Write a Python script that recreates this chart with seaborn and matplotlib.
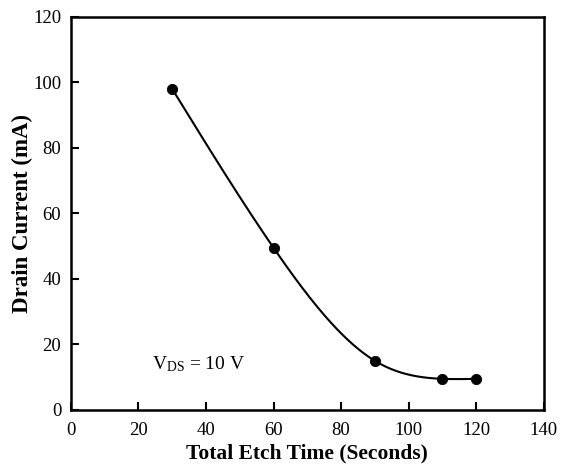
import numpy as np
import pandas as pd
import matplotlib
matplotlib.use("Agg")
import matplotlib.pyplot as plt
import seaborn as sns

# data
etch_time = [30, 60, 90, 110, 120]
drain_current = [98, 49.5, 15, 9.5, 9.5]
x_ticks = [0, 20, 40, 60, 80, 100, 120, 140]
y_ticks = [0, 20, 40, 60, 80, 100, 120]


def natural_spline(x, y, n=300):
    # natural cubic spline through the measured points
    x = np.asarray(x, float)
    y = np.asarray(y, float)
    k = len(x)
    h = np.diff(x)
    A = np.zeros((k, k))
    b = np.zeros(k)
    A[0, 0] = A[-1, -1] = 1
    for i in range(1, k - 1):
        A[i, i - 1] = h[i - 1]
        A[i, i] = 2 * (h[i - 1] + h[i])
        A[i, i + 1] = h[i]
        b[i] = 6 * ((y[i + 1] - y[i]) / h[i] - (y[i] - y[i - 1]) / h[i - 1])
    m = np.linalg.solve(A, b)
    xs = np.linspace(x[0], x[-1], n)
    ys = np.empty_like(xs)
    for j, xv in enumerate(xs):
        i = min(np.searchsorted(x, xv, side="right") - 1, k - 2)
        t = xv - x[i]
        a = (x[i + 1] - xv)
        ys[j] = (m[i] * a ** 3 / (6 * h[i]) + m[i + 1] * t ** 3 / (6 * h[i])
                 + (y[i] / h[i] - m[i] * h[i] / 6) * a
                 + (y[i + 1] / h[i] - m[i + 1] * h[i] / 6) * t)
    return xs, ys


sns.set_style("ticks")
plt.rcParams['font.family'] = ['Liberation Serif', 'DejaVu Serif']
plt.rcParams['mathtext.fontset'] = 'custom'
plt.rcParams['mathtext.rm'] = 'Liberation Serif'
plt.rcParams['text.color'] = 'black'
plt.rcParams['axes.labelcolor'] = 'black'
plt.rcParams['xtick.color'] = 'black'
plt.rcParams['ytick.color'] = 'black'

df = pd.DataFrame({"time": etch_time, "current": drain_current})
xs, ys = natural_spline(etch_time, drain_current)
curve = pd.DataFrame({"time": xs, "current": ys})

fig = plt.figure(figsize=(5.67, 4.68), dpi=100)
ax = fig.add_axes([0.125, 0.124, 0.834, 0.840])

sns.lineplot(data=curve, x="time", y="current", color="black", linewidth=1.5,
             ax=ax, sort=False)
sns.scatterplot(data=df, x="time", y="current", color="black", s=55,
                edgecolor="black", ax=ax, zorder=3)

ax.set_xlim(0, 140)
ax.set_ylim(0, 120)
ax.set_xticks(x_ticks)
ax.set_yticks(y_ticks)
ax.tick_params(direction="in", length=6, width=1.5, labelsize=13.5,
               colors="black", top=False, right=False)
ax.tick_params(axis="x", pad=9)
ax.tick_params(axis="y", pad=7)
for s in ax.spines.values():
    s.set_linewidth(1.8)
    s.set_color("black")

ax.set_xlabel("Total Etch Time (Seconds)", fontsize=15.5, fontweight="bold", labelpad=3)
ax.set_ylabel("Drain Current (mA)", fontsize=16.5, fontweight="bold", labelpad=0)

ax.text(24, 14, r"$\mathregular{V_{DS}}$ = 10 V", fontsize=14, va="center", ha="left")

fig.savefig("out.png", dpi=100)
